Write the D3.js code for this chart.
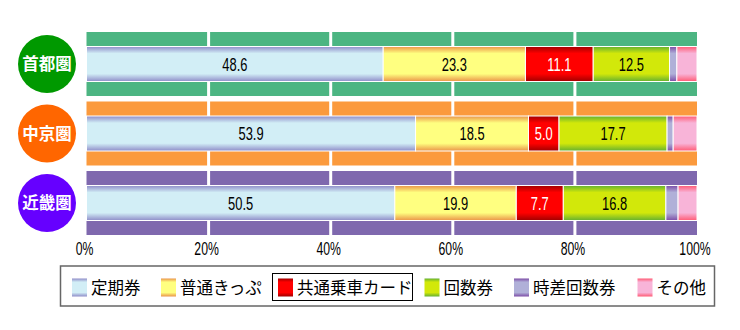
<!DOCTYPE html>
<html>
<head>
<meta charset="utf-8">
<script src="https://cdn.jsdelivr.net/npm/d3@7"></script>
<style>
  html, body { margin: 0; padding: 0; background: #fff; }
  svg { display: block; }
  .cjk { font-family: "Noto Sans CJK JP", "Noto Sans", sans-serif; }
  .num { font-family: "Liberation Sans", "DejaVu Sans", sans-serif; }
</style>
</head>
<body>
<svg id="chart" width="740" height="330"></svg>
<script>
// Regions (rows) and their badge / band colours
const regions = ["首都圏", "中京圏", "近畿圏"];
const badgeColors = ["#009900", "#ff6600", "#6600ff"];
const bandColors = ["#4cb582", "#fb9a3d", "#7f68ae"];

// Ticket types (stacked segments)
const series = ["定期券", "普通きっぷ", "共通乗車カード", "回数券", "時差回数券", "その他"];
const midColors = ["#d2eef6", "#ffff80", "#ff0000", "#d2e80a", "#b0b0d8", "#f8b4d8"];
const edgeColors = ["#8e8cc8", "#ea9448", "#a00000", "#64b030", "#7c4ca6", "#ff5a74"];
const labelColors = ["#000", "#000", "#fff", "#000", "#000", "#000"];
const labelShown = [true, true, true, true, false, false];

// Shares (%) per region, in series order
const shutoken = [48.6, 23.3, 11.1, 12.5, 1.2, 3.3];
const chukyo = [53.9, 18.5, 5.0, 17.7, 1.0, 3.9];
const kinki = [50.5, 19.9, 7.7, 16.8, 2.0, 3.1];
const values = [shutoken, chukyo, kinki];

const tickValues = [0, 20, 40, 60, 80, 100];
const tickLabels = ["0%", "20%", "40%", "60%", "80%", "100%"];

const svg = d3.select("#chart");
const defs = svg.append("defs");

// Vertical gradients: darker edge at top/bottom, flat colour in the middle
series.forEach((s, i) => {
  const g = defs.append("linearGradient")
    .attr("id", "grad" + i).attr("x1", 0).attr("y1", 0).attr("x2", 0).attr("y2", 1);
  [[0, edgeColors[i]], [0.2, midColors[i]], [0.78, midColors[i]], [1, edgeColors[i]]]
    .forEach(([o, c]) => g.append("stop").attr("offset", o).attr("stop-color", c));
});

const x = d3.scaleLinear().domain([0, 100]).range([86.5, 697]);
const y = d3.scaleBand().domain(regions).range([32, 235]).paddingInner(5.5 / 69.5);

// Coloured background band per region
svg.append("g").selectAll("rect").data(regions).join("rect")
  .attr("x", x(0)).attr("width", x(100) - x(0))
  .attr("y", d => y(d)).attr("height", y.bandwidth())
  .attr("fill", (d, i) => bandColors[i]);

// White gridlines cutting through the bands
svg.append("g").selectAll("line").data(tickValues.slice(1, -1)).join("line")
  .attr("x1", d => x(d)).attr("x2", d => x(d))
  .attr("y1", y.range()[0]).attr("y2", y.range()[1])
  .attr("stroke", "#fff").attr("stroke-width", 3);

// Stacked bars
const barTop = 14.5, barH = 35;
regions.forEach((r, ri) => {
  const vals = values[ri];
  let acc = 0;
  const segs = vals.map((v, si) => {
    const s = { si, x0: acc, x1: acc + v, v };
    acc += v;
    return s;
  });
  const g = svg.append("g");
  g.selectAll("rect").data(segs).join("rect")
    .attr("x", d => x(d.x0)).attr("width", d => x(d.x1) - x(d.x0))
    .attr("y", y(r) + barTop).attr("height", barH)
    .attr("fill", d => `url(#grad${d.si})`)
    .attr("stroke", "#fff").attr("stroke-width", 1);
  g.selectAll("text").data(segs.filter(d => labelShown[d.si])).join("text")
    .attr("class", "num")
    .attr("transform", d => `translate(${(x(d.x0) + x(d.x1)) / 2},${y(r) + barTop + barH / 2 + 6.8}) scale(0.68,1)`)
    .attr("text-anchor", "middle")
    .attr("font-size", 19)
    .attr("fill", d => labelColors[d.si])
    .text(d => d.v.toFixed(1));
});

// Region badges
const badges = svg.append("g");
regions.forEach((r, i) => {
  const cy = y(r) + y.bandwidth() / 2;
  badges.append("circle").attr("cx", 47).attr("cy", cy).attr("r", 29).attr("fill", badgeColors[i]);
  badges.append("text").attr("class", "cjk")
    .attr("x", 47).attr("y", cy + 6).attr("text-anchor", "middle")
    .attr("font-size", 16.5).attr("font-weight", "bold").attr("fill", "#fff")
    .text(r);
});

// Percentage axis
const axis = d3.axisBottom(x).tickValues(tickValues)
  .tickFormat((d, i) => tickLabels[i]).tickSize(0).tickPadding(0);
const ax = svg.append("g").attr("transform", "translate(0,255)").call(axis);
ax.select(".domain").remove();
ax.selectAll("text")
  .attr("class", "num").attr("dy", 0).attr("y", 0)
  .attr("font-size", 17.5).attr("fill", "#000")
  .attr("transform", "scale(0.7,1)")
  .attr("x", 0);
ax.selectAll(".tick").each(function(d) {
  d3.select(this).attr("transform", `translate(${x(d) - 2},0)`);
});

// Legend
const legend = svg.append("g");
legend.append("rect").attr("x", 60.5).attr("y", 266).attr("width", 654).attr("height", 40)
  .attr("fill", "#fff").attr("stroke", "#666").attr("stroke-width", 1.5);
const swatchX = [72, 161, 278, 424.5, 514, 637.5];
legend.append("rect").attr("x", 272.5).attr("y", 273.5).attr("width", 140).attr("height", 27)
  .attr("fill", "none").attr("stroke", "#000").attr("stroke-width", 1);
series.forEach((s, i) => {
  legend.append("rect").attr("x", swatchX[i]).attr("y", 278.5).attr("width", 15).attr("height", 18)
    .attr("fill", `url(#grad${i})`);
  legend.append("text").attr("class", "cjk")
    .attr("x", swatchX[i] + 19).attr("y", 293.5)
    .attr("font-size", 16.5).attr("fill", "#000")
    .text(s);
});
</script>
</body>
</html>
